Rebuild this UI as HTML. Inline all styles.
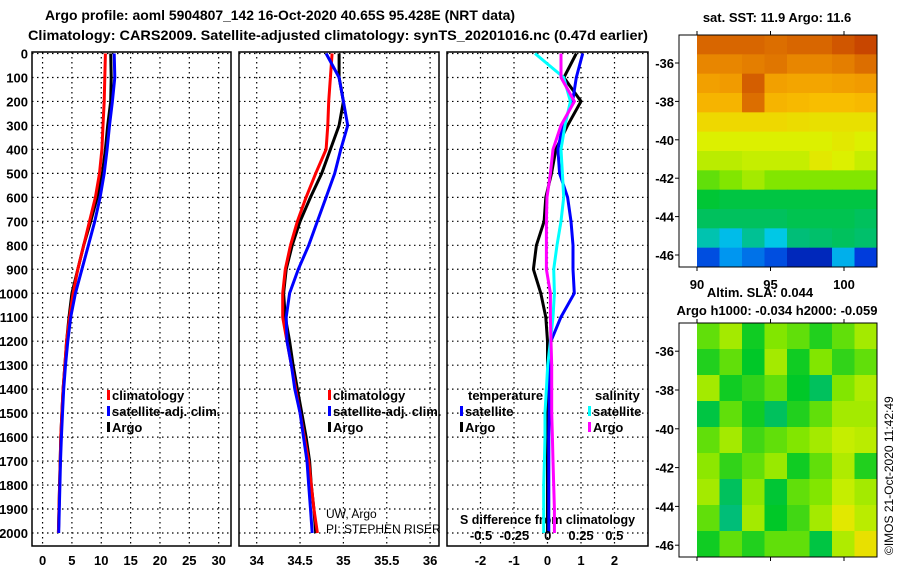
<!DOCTYPE html>
<html><head><meta charset="utf-8"><style>
html,body{margin:0;padding:0;background:#fff;}
svg{display:block;font-family:"Liberation Sans",sans-serif;}
.b{font-weight:bold;font-size:13px;fill:#000;}
.t{font-weight:bold;font-size:14px;fill:#000;}
</style></head><body>
<svg id="s" width="900" height="580" viewBox="0 0 900 580">
<text class="t" x="45" y="20" textLength="470" lengthAdjust="spacingAndGlyphs">Argo profile: aoml 5904807_142 16-Oct-2020 40.65S 95.428E (NRT data)</text>
<text class="t" x="28" y="40" textLength="620" lengthAdjust="spacingAndGlyphs">Climatology: CARS2009. Satellite-adjusted climatology: synTS_20201016.nc (0.47d earlier)</text>
<text class="b" x="777" y="22" text-anchor="middle">sat. SST: 11.9 Argo: 11.6</text>
<text class="b" x="760" y="297" text-anchor="middle">Altim. SLA: 0.044</text>
<text class="b" x="777" y="315" text-anchor="middle">Argo h1000: -0.034 h2000: -0.059</text>
<text x="326" y="518" font-size="12">UW, Argo</text>
<text x="326" y="533" font-size="12">PI: STEPHEN RISER</text>
<text x="893" y="555" font-size="12" transform="rotate(-90 893 555)">©IMOS 21-Oct-2020 11:42:49</text>
<text class="b" x="460" y="524" textLength="175" lengthAdjust="spacingAndGlyphs">S difference from climatology</text>
</svg>
<script>
// ---- data ----
const depths = [0,100,200,300,400,500,600,700,800,900,1000,1100,1200,1300,1400,1500,1600,1700,1800,1900,2000];
const tempArgo = [11.6,11.7,11.6,11.1,10.7,10.2,9.3,8.2,7.0,6.0,5.0,4.5,4.1,3.8,3.5,3.3,3.1,3.0,2.9,2.8,2.7];
const tempClim = [10.7,10.6,10.5,10.3,10.1,9.7,9.0,8.0,7.0,6.0,5.2,4.6,4.1,3.8,3.5,3.3,3.1,3.0,2.9,2.8,2.7];
const tempSat = [12.2,12.3,11.9,11.4,11.0,10.5,9.8,8.9,7.8,6.7,5.6,4.8,4.3,3.9,3.6,3.4,3.2,3.05,2.95,2.85,2.75];
const salArgo = [34.95,34.95,35.0,34.95,34.85,34.75,34.62,34.5,34.41,34.34,34.31,34.33,34.38,34.42,34.47,34.52,34.57,34.61,34.63,34.66,34.68];
const salClim = [34.87,34.85,34.83,34.82,34.8,34.68,34.57,34.47,34.39,34.33,34.3,34.3,34.35,34.4,34.45,34.5,34.55,34.6,34.63,34.66,34.7];
const salSat = [34.8,34.95,35.0,35.05,34.97,34.9,34.8,34.7,34.6,34.48,34.38,34.34,34.35,34.4,34.44,34.5,34.54,34.58,34.6,34.62,34.64];
const dTArgo = [0.86,0.49,1.0,0.6,0.25,0.12,-0.05,-0.1,-0.33,-0.42,-0.2,-0.05,0.0,0.0,0.0,0.0,0.0,0.0,0.0,0.0,0.0];
const dTSat = [1.05,0.86,0.75,0.46,0.31,0.36,0.6,0.7,0.76,0.76,0.8,0.4,0.1,0.05,0.05,0.05,0.04,0.04,0.04,0.04,0.04];
const dSSat = [-0.095,0.12,0.17,0.13,0.1,0.11,0.12,0.1,0.07,0.045,0.05,0.04,0.02,0.0,-0.01,-0.02,-0.02,-0.025,-0.03,-0.03,-0.03];
const dSArgo = [0.1,0.1,0.2,0.1,0.04,0.02,-0.005,-0.01,-0.01,-0.01,0.02,0.02,0.025,0.03,0.03,0.03,0.035,0.04,0.045,0.05,0.05];
const depthTicks = [0,100,200,300,400,500,600,700,800,900,1000,1100,1200,1300,1400,1500,1600,1700,1800,1900,2000];
const tTicks = [0,5,10,15,20,25,30];
const sTicks = [34,34.5,35,35.5,36];
const dTicks = [-2,-1,0,1,2];
const dSTickLabels = [-0.5,-0.25,0,0.25,0.5];
const latTicks = [-36,-38,-40,-42,-44,-46];
const lonTicks = [90,95,100];
const sstGrid = [
[.86,.86,.86,.85,.86,.86,.88,.9],
[.82,.82,.83,.84,.82,.82,.83,.85],
[.78,.79,.87,.78,.77,.77,.78,.79],
[.74,.74,.85,.74,.73,.72,.72,.73],
[.66,.66,.66,.66,.65,.64,.64,.64],
[.6,.6,.6,.6,.6,.6,.62,.6],
[.57,.57,.58,.58,.58,.62,.6,.58],
[.5,.52,.55,.52,.52,.52,.52,.52],
[.43,.42,.42,.42,.42,.42,.42,.42],
[.4,.4,.4,.4,.41,.41,.41,.4],
[.34,.28,.36,.3,.38,.39,.4,.39],
[.14,.22,.18,.14,.08,.08,.26,.12]];
const slaGrid = [
[.5,.55,.45,.52,.5,.46,.5,.55],
[.46,.5,.44,.55,.45,.52,.47,.5],
[.55,.45,.47,.5,.44,.4,.52,.56],
[.42,.5,.45,.4,.46,.5,.55,.55],
[.5,.55,.48,.5,.52,.55,.58,.57],
[.53,.47,.5,.54,.45,.5,.56,.46],
[.55,.4,.53,.43,.5,.52,.58,.55],
[.5,.38,.55,.44,.48,.55,.62,.57],
[.45,.5,.46,.5,.5,.42,.56,.64]];

// ---- helpers ----
const svg = document.getElementById('s');
const NS = 'http://www.w3.org/2000/svg';
function mk(tag, attrs, parent){ const e=document.createElementNS(NS,tag); for(const k in attrs) e.setAttribute(k,attrs[k]); (parent||svg).appendChild(e); return e; }
const Y0=53.5, YPX=(533-53.5)/2000;
function yD(d){ return Y0 + d*YPX; }
const TOP=52, BOT=546;
const panels = [
 {name:'temperature', x0:32, x1:231, vmin:-1.8, vmax:32.1, ticks:tTicks},
 {name:'salinity', x0:239, x1:439, vmin:34-(256.7-239)/86.7, vmax:34+(439-256.7)/86.7, ticks:sTicks},
 {name:'difference', x0:447, x1:648, vmin:-3, vmax:3, ticks:dTicks}
];
function xS(p,v){ return p.x0 + (v-p.vmin)/(p.vmax-p.vmin)*(p.x1-p.x0); }

panels.forEach((p,i)=>{
  const g = mk('g',{});
  
  
  p.ticks.forEach(t=>{
    const x=xS(p,t);
    const l=mk('line',{x1:x,x2:x,y1:TOP,y2:BOT,stroke:'#000','stroke-dasharray':'1.5,3.5','stroke-width':1.2},g);
    
    
    const tx=mk('text',{x:x,y:565,'text-anchor':'middle',class:'b'},g);
    
    
    tx.textContent=String(t);
  });
  depthTicks.forEach(d=>{
    const y=yD(d);
    const l=mk('line',{x1:p.x0,x2:p.x1,y1:y,y2:y,stroke:'#000','stroke-dasharray':'1.5,3.5','stroke-width':1.2},g);
    
    
    if(i===0){
      const tx=mk('text',{x:28,y:y+5,'text-anchor':'end',class:'b'},g);
      
      
      tx.textContent=String(d);
    }
  });
  const r=mk('rect',{x:p.x0,y:TOP,width:p.x1-p.x0,height:BOT-TOP,fill:'none',stroke:'#000','stroke-width':1.5},g);
  
  
  p.g=g;
});

function line(p, vals, color, name, scaleFn){
  const pts = vals.map((v,k)=> (scaleFn?scaleFn(v):xS(p,v)).toFixed(1)+','+yD(depths[k]).toFixed(1)).join(' ');
  const e=mk('polyline',{points:pts,fill:'none',stroke:color,'stroke-width':3,'stroke-linejoin':'miter'},p.g);
  
  
}
const P1=panels[0],P2=panels[1],P3=panels[2];
line(P1,tempArgo,'#000','temp-argo-line');
line(P1,tempClim,'#f00','temp-climatology-line');
line(P1,tempSat,'#00f','temp-satellite-line');
line(P2,salArgo,'#000','sal-argo-line');
line(P2,salClim,'#f00','sal-climatology-line');
line(P2,salSat,'#00f','sal-satellite-line');
const sScale = v => 547.7 + v*133.3;
line(P3,dTArgo,'#000','dtemp-argo-line');
line(P3,dTSat,'#00f','dtemp-satellite-line');
line(P3,dSSat,'#0ff','dsal-satellite-line',sScale);
line(P3,dSArgo,'#f0f','dsal-argo-line',sScale);

dSTickLabels.forEach(v=>{
  const tx=mk('text',{x:sScale(v),y:540,'text-anchor':'middle',class:'b'});
  
  
  tx.textContent=String(v);
});

function legend(x,y,color,label,nm){
  const r=mk('rect',{x:x,y:y-10,width:3,height:10,fill:color});
  
  
  const t=mk('text',{x:x+5,y:y,class:'b'});
  
  
  t.textContent=label;
}
legend(107,400,'#f00','climatology','legend-t-climatology');
legend(107,416,'#00f','satellite-adj. clim.','legend-t-satellite');
legend(107,432,'#000','Argo','legend-t-argo');
legend(328,400,'#f00','climatology','legend-s-climatology');
legend(328,416,'#00f','satellite-adj. clim.','legend-s-satellite');
legend(328,432,'#000','Argo','legend-s-argo');
legend(460,416,'#00f','satellite','legend-dt-satellite');
legend(460,432,'#000','Argo','legend-dt-argo');
legend(588,416,'#0ff','satellite','legend-ds-satellite');
legend(588,432,'#f0f','Argo','legend-ds-argo');
{const t=mk('text',{x:468,y:400,class:'b'});   t.textContent='temperature';}
{const t=mk('text',{x:595,y:400,class:'b'});   t.textContent='salinity';}

// ---- maps ----
const stops=[[0,[0,0,120]],[.12,[0,60,220]],[.22,[0,150,240]],[.3,[0,200,230]],[.38,[0,190,120]],[.44,[0,200,40]],[.52,[130,230,0]],[.6,[220,240,0]],[.7,[250,200,0]],[.8,[240,150,0]],[.9,[200,70,0]],[1,[150,0,0]]];
function col(v){
  for(let k=1;k<stops.length;k++){ if(v<=stops[k][0]){ const a=stops[k-1],b=stops[k],f=(v-a[0])/(b[0]-a[0]); return 'rgb('+a[1].map((c,j)=>Math.round(c+(b[1][j]-c)*f)).join(',')+')'; } }
  return 'rgb(150,0,0)';
}
function map(grid, y0, y1, nm, latAt){
  const x0=679,x1=877,dx0=697;
  const g=mk('g',{});
  
  
  const rows=grid.length, cols=grid[0].length, cw=(x1-dx0)/cols, rh=(y1-y0)/rows;
  grid.forEach((row,ri)=>row.forEach((v,ci)=>{
    const r=mk('rect',{x:dx0+ci*cw,y:y0+ri*rh,width:cw+0.5,height:rh+0.5,fill:col(v)},g);
    
    
  }));
  const f=mk('rect',{x:x0,y:y0,width:x1-x0,height:y1-y0,fill:'none',stroke:'#000','stroke-width':1},g);
  
  
  latTicks.forEach(l=>{
    const y=latAt(l);
    const tk=mk('line',{x1:x0-4,x2:x0,y1:y,y2:y,stroke:'#000'},g);
    
    
    const tx=mk('text',{x:x0-5,y:y+5,'text-anchor':'end',class:'b'},g);
    
    
    tx.textContent=String(l);
  });
  lonTicks.forEach(l=>{
    const x=dx0+(l-90)*14.7;
    const tk=mk('line',{x1:x,x2:x,y1:y1,y2:y1+4,stroke:'#000'},g);
    
    
    const tk2=mk('line',{x1:x,x2:x,y1:y0-4,y2:y0,stroke:'#000'},g);
    
    
  });
  return g;
}
map(sstGrid,35,267,'sst-map',l=>63+(-36-l)*19.2);
map(slaGrid,323,557,'sla-map',l=>390+(-38-l)*19.4);
lonTicks.forEach(l=>{
  const tx=mk('text',{x:697+(l-90)*14.7,y:289,'text-anchor':'middle',class:'b'});
  
  
  tx.textContent=String(l);
});
</script>
</body></html>
